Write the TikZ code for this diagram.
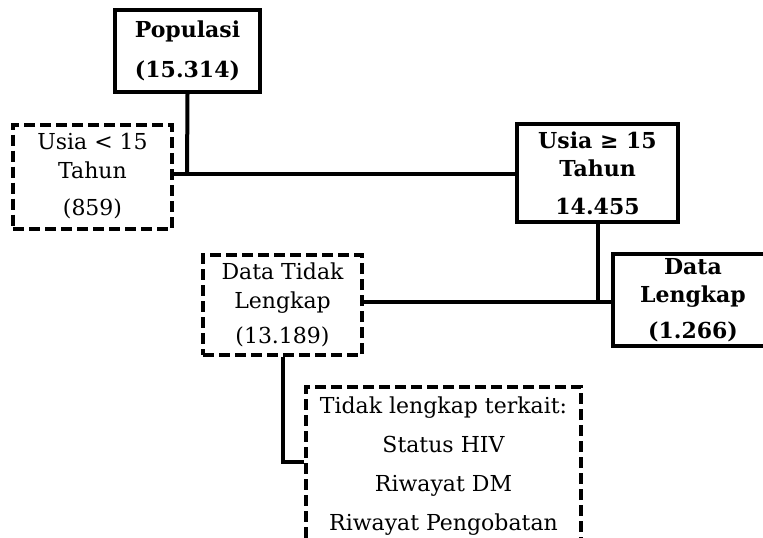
\documentclass[tikz,border=0pt]{standalone}
\usepackage{fontspec}
\setmainfont{DejaVu Serif}
\begin{document}
\begin{tikzpicture}[x=1pt,y=-1pt,
 solidbox/.style={draw, line width=4pt, inner sep=0pt, align=center, font=\fontsize{22}{28}\selectfont\bfseries},
 dashbox/.style={draw, line width=4pt, dash pattern=on 11pt off 5pt, inner sep=0pt, align=center, font=\fontsize{22}{29}\selectfont},
 conn/.style={line width=4pt}]
\useasboundingbox (0,0) rectangle (763,538);
% boxes
\node[solidbox, minimum width=145pt, minimum height=82pt] (pop) at (187.5,51) {Populasi\\[12pt](15.314)};
\node[dashbox, minimum width=159pt, minimum height=104pt] (u15) at (92.5,176.5) {Usia < 15\\Tahun\\[8pt](859)};
\node[solidbox, minimum width=161pt, minimum height=98pt] (u15ge) at (597.5,173) {Usia ≥ 15\\Tahun\\[10pt]14.455};
\node[dashbox, minimum width=159pt, minimum height=100pt] (dtl) at (282.5,305) {Data Tidak\\Lengkap\\[6pt](13.189)};
\node[solidbox, minimum width=160pt, minimum height=92pt] (dl) at (693,300) {Data\\Lengkap\\[8pt](1.266)};
\node[dashbox, minimum width=275pt, minimum height=158pt, font=\fontsize{22}{39}\selectfont] (tl) at (443.5,466) {Tidak lengkap terkait:\\Status HIV\\Riwayat DM\\Riwayat Pengobatan};
% connectors
\coordinate (j1) at (187,174);
\draw[conn] (pop.south) -- (j1);
\draw[conn] (u15.east |- j1) -- (u15ge.west |- j1);
\coordinate (j2) at (597.5,302);
\draw[conn] (u15ge.south) -- (j2);
\draw[conn] (dtl.east |- j2) -- (dl.west |- j2);
\coordinate (j3) at (282.5,462);
\draw[conn] (dtl.south) -- (j3) -- (tl.west |- j3);
\end{tikzpicture}
\end{document}
